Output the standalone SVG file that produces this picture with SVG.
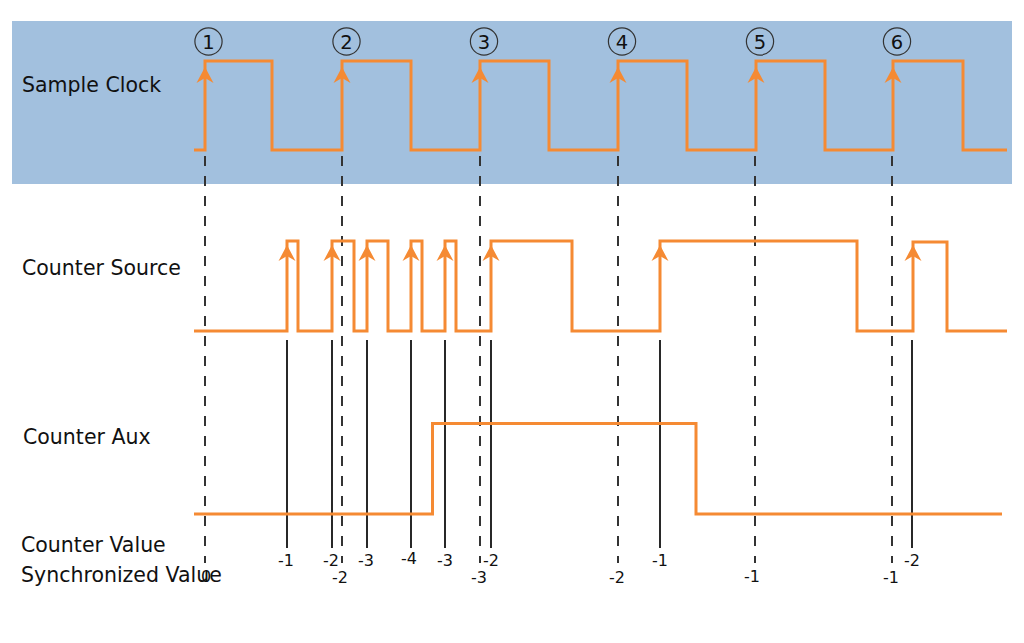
<svg xmlns="http://www.w3.org/2000/svg" xmlns:xlink="http://www.w3.org/1999/xlink" width="1024" height="643" viewBox="0 0 1024 643">
<style>
.lbl{font-family:"DejaVu Sans",sans-serif;font-size:20.5px;fill:#111}
.num{font-family:"DejaVu Sans",sans-serif;font-size:16px;fill:#111;text-anchor:middle}
.cnum{font-family:"DejaVu Sans",sans-serif;font-size:19.5px;fill:#111;text-anchor:middle}
.sig{fill:none;stroke:#f58a33;stroke-width:3;stroke-linejoin:miter}
.dash{stroke:#333;stroke-width:2;stroke-dasharray:10 10}
.solid{stroke:#111;stroke-width:1.8}
.circ{fill:none;stroke:#333;stroke-width:1.2}
.ah{fill:#f58a33}
</style>
<defs>
<path id="ah" d="M0,0 L8.5,16 L0,11 L-8.5,16 Z"/>
</defs>
<rect id="clock-band" x="12" y="21" width="1000" height="163" fill="#a2c0de"/>
<g id="labels">
<text class="lbl" x="22" y="92">Sample Clock</text>
<text class="lbl" x="22" y="275">Counter Source</text>
<text class="lbl" x="23" y="444">Counter Aux</text>
<text class="lbl" x="21" y="552">Counter Value</text>
<text class="lbl" x="21" y="582">Synchronized Value</text>
</g>
<g id="connectors">
<line class="dash" x1="205" y1="156" x2="205" y2="563"/>
<line class="dash" x1="342" y1="156" x2="342" y2="563"/>
<line class="dash" x1="480" y1="156" x2="480" y2="563"/>
<line class="dash" x1="618" y1="156" x2="618" y2="563"/>
<line class="dash" x1="755" y1="156" x2="755" y2="563"/>
<line class="dash" x1="892" y1="156" x2="892" y2="563"/>
<line class="solid" x1="287" y1="340" x2="287" y2="548"/>
<line class="solid" x1="332" y1="340" x2="332" y2="548"/>
<line class="solid" x1="367" y1="340" x2="367" y2="548"/>
<line class="solid" x1="411" y1="340" x2="411" y2="548"/>
<line class="solid" x1="445" y1="340" x2="445" y2="548"/>
<line class="solid" x1="491" y1="340" x2="491" y2="548"/>
<line class="solid" x1="660" y1="340" x2="660" y2="548"/>
<line class="solid" x1="912" y1="340" x2="912" y2="548"/>
</g>
<g id="sample-clock">
<path class="sig" d="M194,150 H205 V61 H272 V150 H342 V61 H411 V150 H480 V61 H549 V150 H618 V61 H687 V150 H756 V61 H825 V150 H893 V61 H963 V150 H1007"/>
<use class="ah" xlink:href="#ah" x="205" y="67"/>
<use class="ah" xlink:href="#ah" x="342" y="67"/>
<use class="ah" xlink:href="#ah" x="480" y="67"/>
<use class="ah" xlink:href="#ah" x="618" y="67"/>
<use class="ah" xlink:href="#ah" x="756" y="67"/>
<use class="ah" xlink:href="#ah" x="893" y="67"/>
</g>
<g id="edge-numbers">
<circle class="circ" cx="208.5" cy="41.5" r="13.6"/><text class="cnum" x="208.5" y="49">1</text>
<circle class="circ" cx="346.5" cy="41.5" r="13.6"/><text class="cnum" x="346.5" y="49">2</text>
<circle class="circ" cx="484" cy="41.5" r="13.6"/><text class="cnum" x="484" y="49">3</text>
<circle class="circ" cx="622" cy="41.5" r="13.6"/><text class="cnum" x="622" y="49">4</text>
<circle class="circ" cx="760" cy="41.5" r="13.6"/><text class="cnum" x="760" y="49">5</text>
<circle class="circ" cx="897" cy="41.5" r="13.6"/><text class="cnum" x="897" y="49">6</text>
</g>
<g id="counter-source">
<path class="sig" d="M194,331 H287 V241 H298 V331 H332 V241 H354 V331 H367 V241 H388 V331 H411 V241 H422 V331 H445 V241 H456 V331 H491 V241 H572 V331 H660 V241 H857 V331 H913 V242 H947 V331 H1007"/>
<use class="ah" xlink:href="#ah" x="287" y="245"/>
<use class="ah" xlink:href="#ah" x="332" y="245"/>
<use class="ah" xlink:href="#ah" x="367" y="245"/>
<use class="ah" xlink:href="#ah" x="411" y="245"/>
<use class="ah" xlink:href="#ah" x="445" y="245"/>
<use class="ah" xlink:href="#ah" x="491" y="245"/>
<use class="ah" xlink:href="#ah" x="660" y="245"/>
<use class="ah" xlink:href="#ah" x="913" y="245"/>
</g>
<g id="counter-aux">
<path class="sig" d="M194,514 H432.5 V423.5 H696 V514 H1002"/>
</g>
<g id="counter-values">
<text class="num" x="286" y="566">-1</text>
<text class="num" x="331" y="566">-2</text>
<text class="num" x="366" y="566">-3</text>
<text class="num" x="409" y="564">-4</text>
<text class="num" x="445" y="566">-3</text>
<text class="num" x="491" y="566">-2</text>
<text class="num" x="660" y="566">-1</text>
<text class="num" x="912" y="566">-2</text>
</g>
<g id="sync-values">
<text class="num" x="206" y="582">0</text>
<text class="num" x="340" y="583">-2</text>
<text class="num" x="479" y="583">-3</text>
<text class="num" x="617" y="583">-2</text>
<text class="num" x="752" y="582">-1</text>
<text class="num" x="891" y="583">-1</text>
</g>
</svg>
